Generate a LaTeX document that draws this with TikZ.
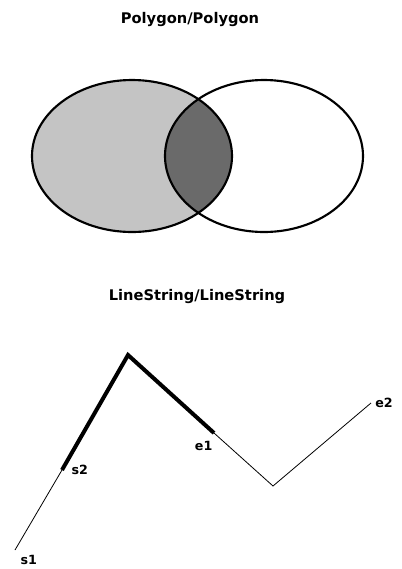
\documentclass[tikz,border=0pt]{standalone}
\usepackage{fontspec}
\setmainfont{DejaVu Sans}
\usetikzlibrary{positioning, calc}
\definecolor{polyFill}{HTML}{C4C4C4}
\definecolor{lensFill}{HTML}{6A6A6A}

\begin{document}
\begin{tikzpicture}[
    x=0.75pt, y=-0.75pt,
    % Global Styles
    font=\bfseries,
    % Text Styles
    title/.style={
        font=\bfseries\fontsize{11}{13}\selectfont,
        inner sep=0pt
    },
    tag/.style={
        font=\bfseries\fontsize{9.5}{11}\selectfont,
        inner sep=1pt
    },
    % Line Styles
    outline/.style={
        draw=black,
        line width=1.6pt
    },
    thin/.style={
        draw=black,
        line width=0.6pt
    },
    overlap/.style={
        draw=black,
        line width=3pt,
        line join=miter
    }
]
    \useasboundingbox (0,0) rectangle (401,569);

    % --- Polygon/Polygon ---

    \node[title] (polytitle) at (190,20) {Polygon/Polygon};

    % Filled left polygon and the shared part
    \fill[polyFill] (132,156) ellipse [x radius=100, y radius=76];
    \begin{scope}
        \clip (132,156) ellipse [x radius=100, y radius=76];
        \fill[lensFill] (264,156) ellipse [x radius=99, y radius=76];
    \end{scope}

    % Outlines
    \draw[outline] (132,156) ellipse [x radius=100, y radius=76];
    \draw[outline] (264,156) ellipse [x radius=99, y radius=76];

    % --- LineString/LineString ---

    \node[title] (linetitle) at (197,297) {LineString/LineString};

    % Vertices
    \coordinate (s1) at (15,550);
    \coordinate (s2) at (62,470);
    \coordinate (apex) at (128,355);
    \coordinate (e1) at (214,433);
    \coordinate (valley) at (273,486);
    \coordinate (e2) at (371,403);

    % First line string
    \draw[thin] (s1) -- (s2);
    \draw[thin] (e1) -- (valley) -- (e2);

    % Second line string (shared part)
    \draw[overlap] (s2) -- (apex) -- (e1);

    % Labels
    \node[tag, below right=3pt and 3pt of s1] (s1lbl) {s1};
    \node[tag, right=6pt of s2] (s2lbl) {s2};
    \node[tag, below left=5pt and 0pt of e1] (e1lbl) {e1};
    \node[tag, right=2pt of e2] (e2lbl) {e2};

\end{tikzpicture}
\end{document}
